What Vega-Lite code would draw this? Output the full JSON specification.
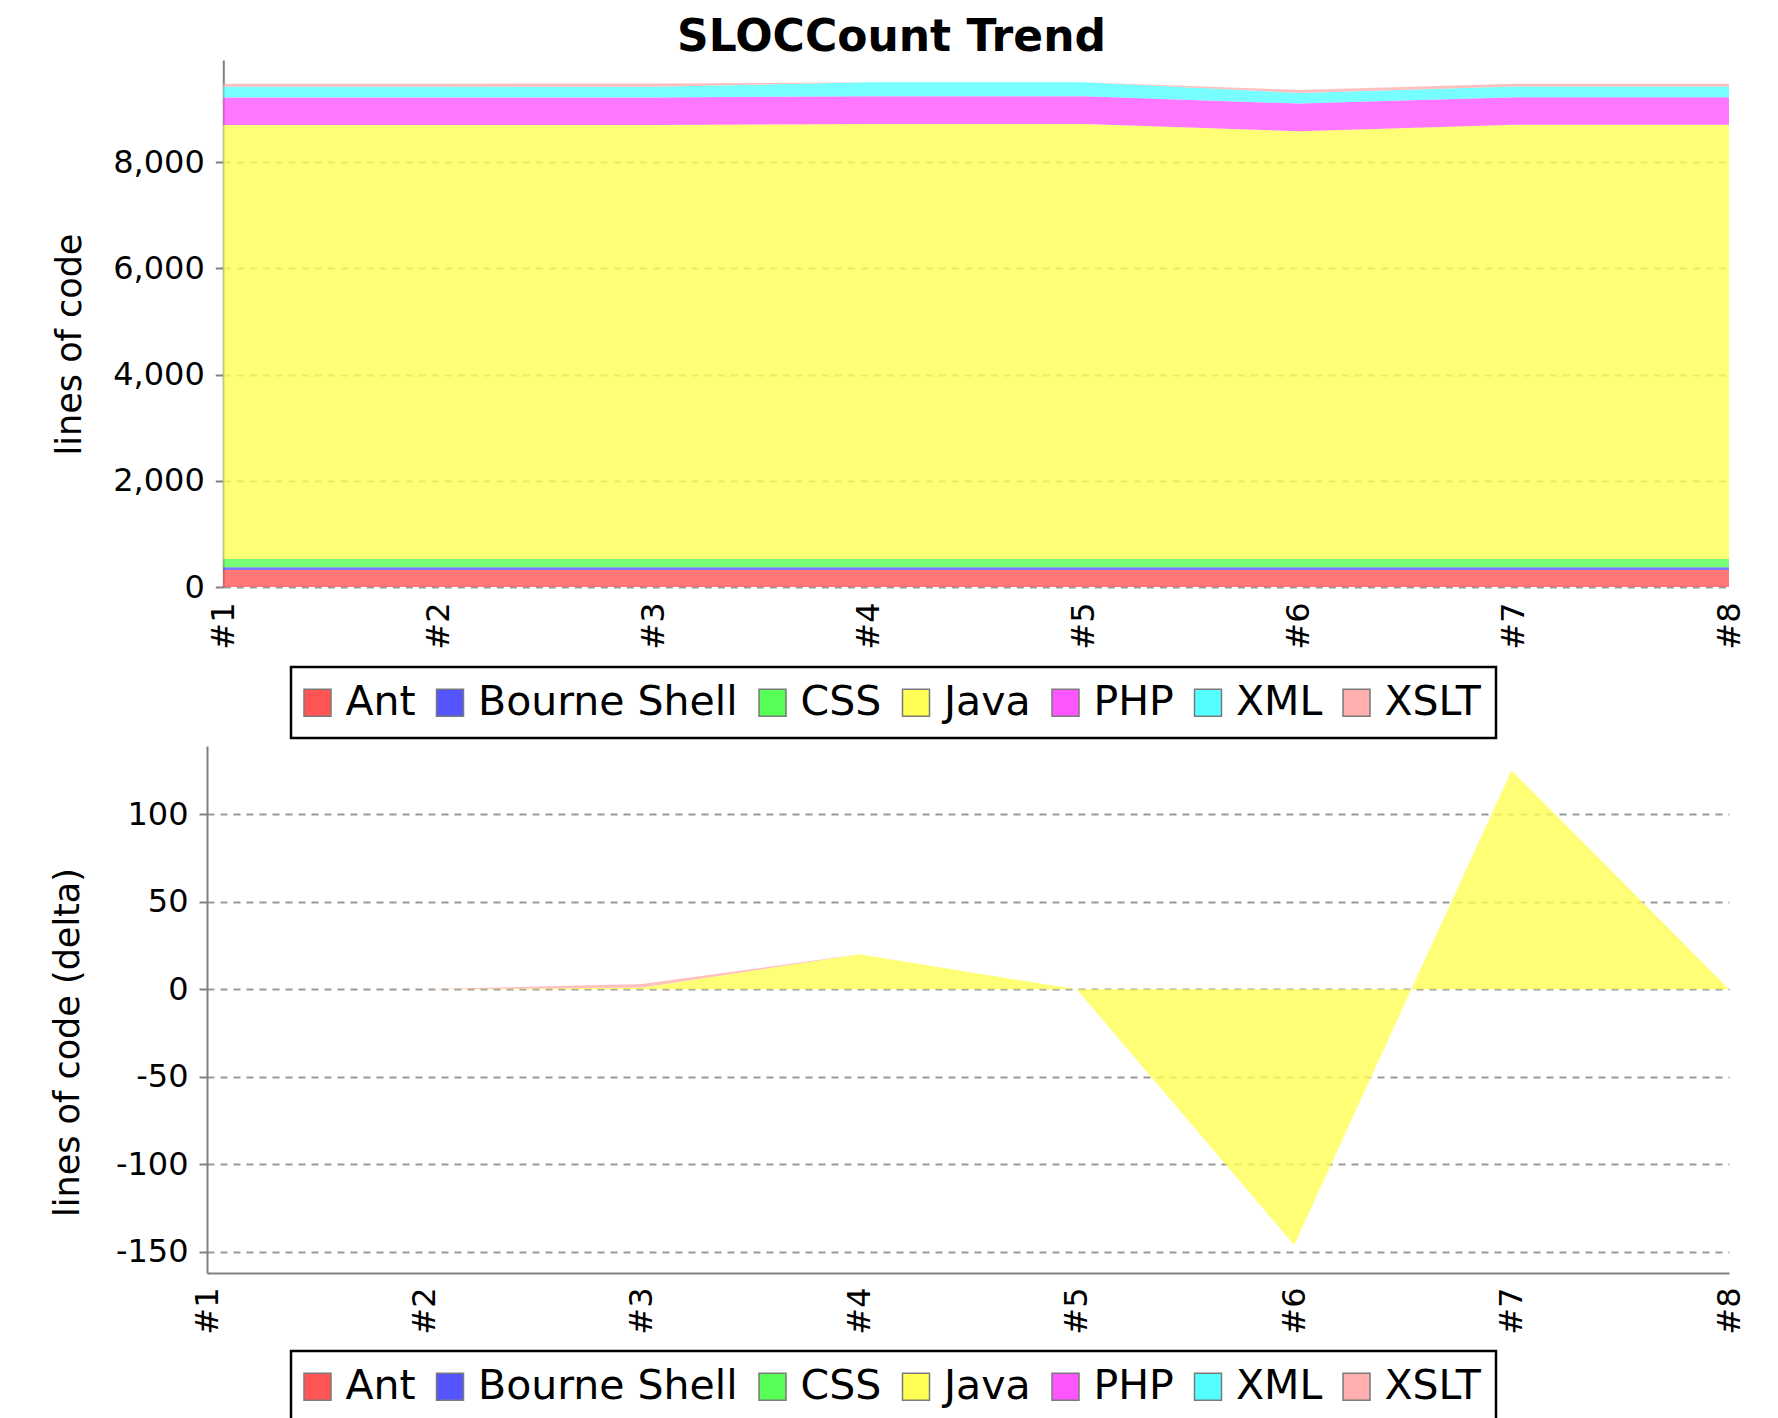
{
  "$schema": "https://vega.github.io/schema/vega-lite/v6.json",
  "background": "white",
  "padding": {"left": 50, "top": 16, "right": 10, "bottom": 10},
  "title": {"text": "SLOCCount Trend", "font": "DejaVu Sans", "fontSize": 44, "fontWeight": "bold", "color": "#000000", "anchor": "middle", "offset": 0, "dx": -6},
  "datasets": {
    "abs": [
      {"build": "#1", "lang": "Ant", "loc": 320}, {"build": "#2", "lang": "Ant", "loc": 320}, {"build": "#3", "lang": "Ant", "loc": 320}, {"build": "#4", "lang": "Ant", "loc": 320},
      {"build": "#5", "lang": "Ant", "loc": 320}, {"build": "#6", "lang": "Ant", "loc": 320}, {"build": "#7", "lang": "Ant", "loc": 320}, {"build": "#8", "lang": "Ant", "loc": 320},
      {"build": "#1", "lang": "Bourne Shell", "loc": 50}, {"build": "#2", "lang": "Bourne Shell", "loc": 50}, {"build": "#3", "lang": "Bourne Shell", "loc": 50}, {"build": "#4", "lang": "Bourne Shell", "loc": 50},
      {"build": "#5", "lang": "Bourne Shell", "loc": 50}, {"build": "#6", "lang": "Bourne Shell", "loc": 50}, {"build": "#7", "lang": "Bourne Shell", "loc": 50}, {"build": "#8", "lang": "Bourne Shell", "loc": 50},
      {"build": "#1", "lang": "CSS", "loc": 155}, {"build": "#2", "lang": "CSS", "loc": 155}, {"build": "#3", "lang": "CSS", "loc": 155}, {"build": "#4", "lang": "CSS", "loc": 155},
      {"build": "#5", "lang": "CSS", "loc": 155}, {"build": "#6", "lang": "CSS", "loc": 155}, {"build": "#7", "lang": "CSS", "loc": 155}, {"build": "#8", "lang": "CSS", "loc": 155},
      {"build": "#1", "lang": "Java", "loc": 8175}, {"build": "#2", "lang": "Java", "loc": 8175}, {"build": "#3", "lang": "Java", "loc": 8176}, {"build": "#4", "lang": "Java", "loc": 8196},
      {"build": "#5", "lang": "Java", "loc": 8196}, {"build": "#6", "lang": "Java", "loc": 8060}, {"build": "#7", "lang": "Java", "loc": 8180}, {"build": "#8", "lang": "Java", "loc": 8180},
      {"build": "#1", "lang": "PHP", "loc": 520}, {"build": "#2", "lang": "PHP", "loc": 520}, {"build": "#3", "lang": "PHP", "loc": 520}, {"build": "#4", "lang": "PHP", "loc": 520},
      {"build": "#5", "lang": "PHP", "loc": 520}, {"build": "#6", "lang": "PHP", "loc": 520}, {"build": "#7", "lang": "PHP", "loc": 520}, {"build": "#8", "lang": "PHP", "loc": 520},
      {"build": "#1", "lang": "XML", "loc": 200}, {"build": "#2", "lang": "XML", "loc": 200}, {"build": "#3", "lang": "XML", "loc": 200}, {"build": "#4", "lang": "XML", "loc": 265},
      {"build": "#5", "lang": "XML", "loc": 265}, {"build": "#6", "lang": "XML", "loc": 200}, {"build": "#7", "lang": "XML", "loc": 200}, {"build": "#8", "lang": "XML", "loc": 200},
      {"build": "#1", "lang": "XSLT", "loc": 60}, {"build": "#2", "lang": "XSLT", "loc": 60}, {"build": "#3", "lang": "XSLT", "loc": 60}, {"build": "#4", "lang": "XSLT", "loc": 0},
      {"build": "#5", "lang": "XSLT", "loc": 0}, {"build": "#6", "lang": "XSLT", "loc": 55}, {"build": "#7", "lang": "XSLT", "loc": 55}, {"build": "#8", "lang": "XSLT", "loc": 55}
    ],
    "delta": [
      {"build": "#1", "lang": "Ant", "loc": 0}, {"build": "#2", "lang": "Ant", "loc": 0}, {"build": "#3", "lang": "Ant", "loc": 0}, {"build": "#4", "lang": "Ant", "loc": 0},
      {"build": "#5", "lang": "Ant", "loc": 0}, {"build": "#6", "lang": "Ant", "loc": 0}, {"build": "#7", "lang": "Ant", "loc": 0}, {"build": "#8", "lang": "Ant", "loc": 0},
      {"build": "#1", "lang": "Bourne Shell", "loc": 0}, {"build": "#2", "lang": "Bourne Shell", "loc": 0}, {"build": "#3", "lang": "Bourne Shell", "loc": 0}, {"build": "#4", "lang": "Bourne Shell", "loc": 0},
      {"build": "#5", "lang": "Bourne Shell", "loc": 0}, {"build": "#6", "lang": "Bourne Shell", "loc": 0}, {"build": "#7", "lang": "Bourne Shell", "loc": 0}, {"build": "#8", "lang": "Bourne Shell", "loc": 0},
      {"build": "#1", "lang": "CSS", "loc": 0}, {"build": "#2", "lang": "CSS", "loc": 0}, {"build": "#3", "lang": "CSS", "loc": 0}, {"build": "#4", "lang": "CSS", "loc": 0},
      {"build": "#5", "lang": "CSS", "loc": 0}, {"build": "#6", "lang": "CSS", "loc": 0}, {"build": "#7", "lang": "CSS", "loc": 0}, {"build": "#8", "lang": "CSS", "loc": 0},
      {"build": "#1", "lang": "Java", "loc": 0}, {"build": "#2", "lang": "Java", "loc": 0}, {"build": "#3", "lang": "Java", "loc": 1}, {"build": "#4", "lang": "Java", "loc": 20},
      {"build": "#5", "lang": "Java", "loc": 0}, {"build": "#6", "lang": "Java", "loc": -146}, {"build": "#7", "lang": "Java", "loc": 125}, {"build": "#8", "lang": "Java", "loc": 0},
      {"build": "#1", "lang": "PHP", "loc": 0}, {"build": "#2", "lang": "PHP", "loc": 0}, {"build": "#3", "lang": "PHP", "loc": 0}, {"build": "#4", "lang": "PHP", "loc": 0},
      {"build": "#5", "lang": "PHP", "loc": 0}, {"build": "#6", "lang": "PHP", "loc": 0}, {"build": "#7", "lang": "PHP", "loc": 0}, {"build": "#8", "lang": "PHP", "loc": 0},
      {"build": "#1", "lang": "XML", "loc": 0}, {"build": "#2", "lang": "XML", "loc": 0}, {"build": "#3", "lang": "XML", "loc": 0}, {"build": "#4", "lang": "XML", "loc": 0},
      {"build": "#5", "lang": "XML", "loc": 0}, {"build": "#6", "lang": "XML", "loc": 0}, {"build": "#7", "lang": "XML", "loc": 0}, {"build": "#8", "lang": "XML", "loc": 0},
      {"build": "#1", "lang": "XSLT", "loc": 0}, {"build": "#2", "lang": "XSLT", "loc": 0}, {"build": "#3", "lang": "XSLT", "loc": 2}, {"build": "#4", "lang": "XSLT", "loc": 0},
      {"build": "#5", "lang": "XSLT", "loc": 0}, {"build": "#6", "lang": "XSLT", "loc": 0}, {"build": "#7", "lang": "XSLT", "loc": 0}, {"build": "#8", "lang": "XSLT", "loc": 0}
    ]
  },
  "concat": [
    {
      "width": 1522,
      "height": 527,
      "data": {"name": "abs"},
      "mark": {"type": "area", "fillOpacity": 0.8, "interpolate": "linear"},
      "encoding": {
        "x": {"field": "build", "type": "ordinal", "scale": {"type": "point", "padding": 0, "range": [16.3, 1522]},
              "axis": {"title": null, "labelAngle": -90, "domain": false, "ticks": false, "grid": false, "labelPadding": 15}},
        "y": {"field": "loc", "type": "quantitative", "stack": "zero",
              "scale": {"domain": [0, 9925], "nice": false},
              "axis": {"title": "lines of code", "values": [0, 2000, 4000, 6000, 8000], "format": ",d", "labelPadding": 11, "offset": -16.3, "titleX": -136, "titleY": 284}},
        "order": {"field": "lang", "type": "nominal", "sort": "ascending"},
        "color": {"field": "lang", "type": "nominal",
                  "scale": {"domain": ["Ant", "Bourne Shell", "CSS", "Java", "PHP", "XML", "XSLT"], "range": ["#FF5555", "#5555FF", "#55FF55", "#FFFF55", "#FF55FF", "#55FFFF", "#FFAFAF"]},
                  "legend": {"orient": "none", "legendX": 84, "legendY": 607, "direction": "horizontal", "columns": 7, "title": null}}
      }
    },
    {
      "width": 1522,
      "height": 527,
      "data": {"name": "delta"},
      "mark": {"type": "area", "fillOpacity": 0.8, "interpolate": "linear"},
      "encoding": {
        "x": {"field": "build", "type": "ordinal", "scale": {"type": "point", "padding": 0},
              "axis": {"title": null, "labelAngle": -90, "domain": true, "ticks": false, "grid": false, "labelPadding": 14}},
        "y": {"field": "loc", "type": "quantitative", "stack": "zero",
              "scale": {"domain": [-162, 139], "nice": false, "zero": false},
              "axis": {"title": "lines of code (delta)", "values": [-150, -100, -50, 0, 50, 100], "format": "d", "labelExpr": "replace(datum.label, '\u2212', '-')", "labelPadding": 11, "titleX": -122, "titleY": 296}},
        "order": {"field": "lang", "type": "nominal", "sort": "ascending"},
        "color": {"field": "lang", "type": "nominal",
                  "scale": {"domain": ["Ant", "Bourne Shell", "CSS", "Java", "PHP", "XML", "XSLT"], "range": ["#FF5555", "#5555FF", "#55FF55", "#FFFF55", "#FF55FF", "#55FFFF", "#FFAFAF"]},
                  "legend": {"orient": "none", "legendX": 84, "legendY": 605, "direction": "horizontal", "columns": 7, "title": null}}
      }
    }
  ],
  "columns": 1,
  "spacing": 6,
  "resolve": {"scale": {"color": "independent", "x": "independent", "y": "independent"}, "legend": {"color": "independent"}},
  "config": {
    "view": {"stroke": null},
    "axis": {
      "labelFont": "DejaVu Sans", "labelFontSize": 32, "labelColor": "#000000",
      "titleFont": "DejaVu Sans", "titleFontSize": 35, "titleFontWeight": "normal", "titleColor": "#000000",
      "domainColor": "#808080", "domainWidth": 2,
      "tickColor": "#808080", "tickWidth": 2, "tickSize": 8,
      "gridColor": "#9a9a9a", "gridDash": [7, 6], "gridWidth": 2
    },
    "legend": {
      "labelFont": "DejaVu Sans", "labelFontSize": 41, "labelColor": "#000000", "labelLimit": 600,
      "symbolType": "square", "symbolSize": 729, "symbolStrokeWidth": 1.5, "symbolStrokeColor": "#7a7a7a", "symbolOpacity": 1, "symbolFillOpacity": 1,
      "symbolOffset": -9,
      "columnPadding": 17.5, "labelOffset": 7.5, "padding": 15, "rowPadding": 0,
      "strokeColor": "#000000", "strokeWidth": 2.5, "fillColor": "#ffffff", "cornerRadius": 0
    }
  }
}
